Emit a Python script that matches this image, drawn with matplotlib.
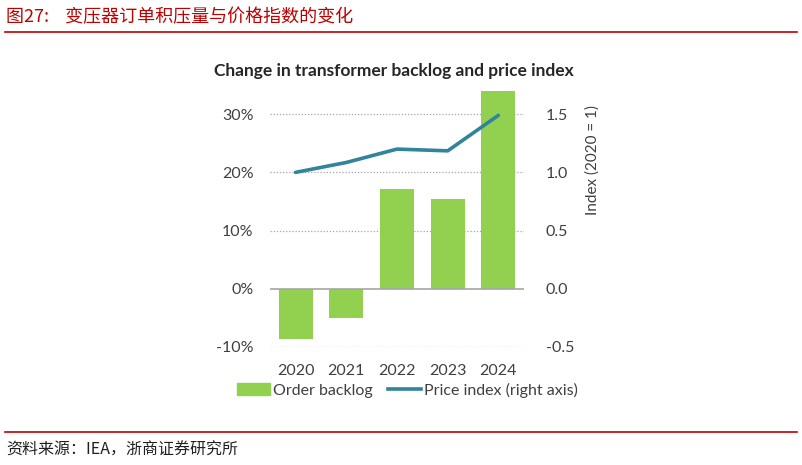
import matplotlib.pyplot as plt
from matplotlib.lines import Line2D
from matplotlib.patches import Patch

years = ['2020', '2021', '2022', '2023', '2024']
backlog = [-8.6, -5.1, 17.2, 15.4, 34.0]          # order backlog change, %
price_index = [1.0, 1.085, 1.2, 1.185, 1.49]      # 2020 = 1

bar_color = '#92d050'
line_color = '#31849b'
red = '#c00000'
txt = '#404040'

fig = plt.figure(figsize=(8.02, 4.65), dpi=100)

# header / footer
fig.text(0.008, 0.963, '图27:    变压器订单积压量与价格指数的变化', color=red, fontsize=13,
         family=['Noto Sans CJK SC', 'DejaVu Sans'], va='center')
fig.add_artist(Line2D([0.006, 0.994], [0.931, 0.931], color=red, lw=1.2))
fig.add_artist(Line2D([0.006, 0.994], [0.071, 0.071], color=red, lw=1.2))
fig.text(0.008, 0.031, '资料来源：IEA，浙商证券研究所', color='#202020', fontsize=11.5,
         family=['Noto Sans CJK SC', 'DejaVu Sans'], va='center')

ax = fig.add_axes([0.337, 0.254, 0.316, 0.563])
x = range(len(years))
ax.bar(x, backlog, width=0.67, color=bar_color, zorder=2)
ax.set_xlim(-0.5, 4.5)
ax.set_ylim(-10, 35)
ax.set_yticks([-10, 0, 10, 20, 30])
ax.set_yticklabels(['-10%', '0%', '10%', '20%', '30%'])
ax.set_xticks(list(x))
ax.set_xticklabels(years)
for v in [-10, 10, 20, 30]:
    ax.axhline(v, color='#a6a6a6', lw=0.9, ls=(0, (1, 1.5)), zorder=0)
ax.axhline(0, color='#a6a6a6', lw=1.2, zorder=3)
for s in ax.spines.values():
    s.set_visible(False)
ax.tick_params(length=0, labelsize=11.5, colors=txt, pad=12)
ax.tick_params(axis='x', pad=12)
for lab in ax.get_xticklabels() + ax.get_yticklabels():
    lab.set_family('Lato')

ax2 = ax.twinx()
ax2.plot(x, price_index, color=line_color, lw=2.6, zorder=4, solid_capstyle='round')
ax2.set_ylim(-0.5, 1.75)
ax2.set_yticks([-0.5, 0.0, 0.5, 1.0, 1.5])
ax2.set_yticklabels(['-0.5', '0.0', '0.5', '1.0', '1.5'])
for s in ax2.spines.values():
    s.set_visible(False)
ax2.tick_params(length=0, labelsize=11.5, colors=txt, pad=16)
for lab in ax2.get_yticklabels():
    lab.set_family('Lato')
ax2.set_ylabel('Index (2020 = 1)', fontsize=11, color=txt, family='Lato')
ax2.yaxis.set_label_coords(1.245, 0.714)

fig.text(0.491, 0.847, 'Change in transformer backlog and price index', ha='center', va='center',
         fontsize=12.5, fontweight='bold', color='#262626', family='Lato')

handles = [Patch(color=bar_color), Line2D([], [], color=line_color, lw=2.6)]
fig.legend(handles, ['Order backlog', 'Price index (right axis)'], loc='center',
           bbox_to_anchor=(0.508, 0.161), ncol=2, frameon=False,
           handlelength=2.1, handletextpad=0.2, columnspacing=0.9,
           prop={'family': 'Lato', 'size': 11.5})
for t in fig.legends[0].get_texts():
    t.set_color(txt)

fig.savefig('out.png', dpi=100)
